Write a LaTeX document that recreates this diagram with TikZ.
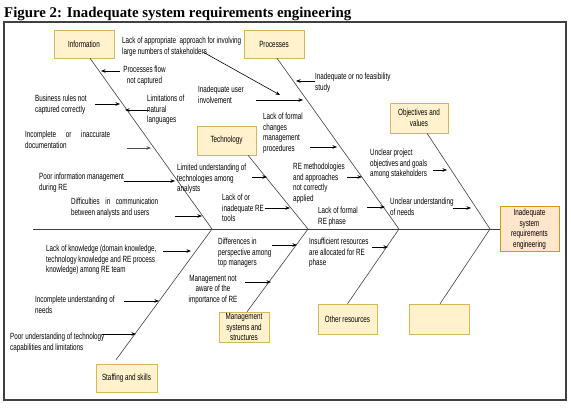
\documentclass[tikz,border=0pt]{standalone}
\usepackage{fontspec}
\usepackage{graphicx}
\usetikzlibrary{arrows.meta}
\newfontfamily\lblfont[FakeStretch=0.7]{Liberation Sans}
\newfontfamily\ttlfont{Liberation Serif}
\definecolor{catfill}{HTML}{FFF2CC}
\definecolor{catline}{HTML}{D6B656}
\definecolor{efffill}{HTML}{FFE6CC}
\definecolor{effline}{HTML}{D79B00}

\begin{document}
\begin{tikzpicture}[x=1pt,y=-1pt]
    \tikzstyle{cat}=[draw=catline, fill=catfill, inner sep=0pt, align=center
    , font=\lblfont\fontsize{9}{10.5}\selectfont]
    \tikzstyle{effect}=[draw=effline, fill=efffill, inner sep=0pt, align=center
    , font=\lblfont\fontsize{9}{10.5}\selectfont]
    \tikzstyle{lbl}=[inner sep=0pt, anchor=north west, align=left
    , font=\lblfont\fontsize{9}{10.5}\selectfont]
    \tikzstyle{bone}=[black!75, line width=0.6pt]
    \tikzstyle{cause}=[black, line width=0.6pt, -{Stealth[length=4.5pt,width=3.5pt]}]
    \useasboundingbox (0,0) rectangle (571,408);
    % Title and frame
    \node[anchor=base west, inner sep=0pt] (title) at (4,17)
      {\resizebox{347pt}{!}{\ttlfont\fontsize{14}{16}\selectfont\bfseries Figure 2: Inadequate system requirements engineering}};
    \draw[black!75, line width=1.2pt] (4,22) rectangle (566,400);
    % Spine and head
    \coordinate (tail) at (33,229);
    \coordinate (v1) at (212,229);
    \coordinate (v2) at (308,229);
    \coordinate (v3) at (399,229);
    \coordinate (v4) at (490,229);
    \node[effect, minimum width=59pt, minimum height=45pt] (eff) at (529.5,229)
      {Inadequate\\system\\requirements\\engineering};
    \draw[bone] (tail) -- (eff.west);
    % Category boxes
    \node[cat, minimum width=60pt, minimum height=28pt] (info) at (84,44) {Information};
    \node[cat, minimum width=60pt, minimum height=28pt] (proc) at (274,44) {Processes};
    \node[cat, minimum width=59pt, minimum height=29pt] (tech) at (226.5,140.5) {Technology};
    \node[cat, minimum width=58pt, minimum height=30pt] (obj) at (419,118) {Objectives and\\values};
    \node[cat, minimum width=50pt, minimum height=30pt] (mgmt) at (244,327) {Management\\systems and\\structures};
    \node[cat, minimum width=59pt, minimum height=30pt] (other) at (347.5,319) {Other resources};
    \node[cat, minimum width=60pt, minimum height=30pt] (blank) at (439,319) {};
    \node[cat, minimum width=61pt, minimum height=28pt] (staff) at (126.5,378) {Staffing and skills};
    % Bones
    \draw[bone] ([xshift=6pt]info.south) -- (v1);
    \draw[bone] ([xshift=3pt]proc.south) -- (v3);
    \draw[bone] ([xshift=21.5pt]tech.south) -- (v2);
    \draw[bone] ([xshift=8pt]obj.south) -- (v4);
    \draw[bone] ([xshift=-10.5pt,yshift=4pt]staff.north) -- (v1);
    \draw[bone] ([xshift=3pt]mgmt.north) -- (v2);
    \draw[bone] (other.north) -- (v3);
    \draw[bone] ([xshift=1pt]blank.north) -- (v4);
    % Causes: information
    \node[lbl, anchor=north, align=center] (flow) at (144.5,66) {Processes flow\\not captured};
    \node[lbl] (rules) at (35,95) {Business rules not\\captured correctly};
    \node[lbl] (limits) at (147,95) {Limitations of\\natural\\languages};
    \node[lbl] (docs) at (25,131) {\makebox[85pt][s]{Incomplete or inaccurate}\\documentation};
    \node[lbl] (poor) at (39,173) {Poor information management\\during RE};
    \node[lbl] (comm) at (71,198) {\makebox[87pt][s]{Difficulties in communication}\\between analysts and users};
    \coordinate (flow-t) at (120,71);   \coordinate (flow-h) at (101,71);
    \coordinate (rules-t) at (95,104);  \coordinate (rules-h) at (120,104);
    \coordinate (limits-t) at (149,110); \coordinate (limits-h) at (125,110);
    \coordinate (docs-t) at (127,148);  \coordinate (docs-h) at (151,148);
    \coordinate (poor-t) at (124,181);  \coordinate (poor-h) at (175,181);
    \coordinate (comm-t) at (175,216);  \coordinate (comm-h) at (202,216);
    \draw[cause] (flow-t) -- (flow-h);
    \draw[cause] (rules-t) -- (rules-h);
    \draw[cause] (limits-t) -- (limits-h);
    \draw[cause, line width=1pt, black!70] (docs-t) -- (docs-h);
    \draw[cause] (poor-t) -- (poor-h);
    \draw[cause] (comm-t) -- (comm-h);
    % Causes: technology
    \node[lbl] (limited) at (177,164) {Limited understanding of\\technologies among\\analysts};
    \node[lbl] (tools) at (222,194) {Lack of or\\inadequate RE\\tools};
    \coordinate (limited-t) at (252,177); \coordinate (limited-h) at (267,177);
    \coordinate (tools-t) at (265,208);   \coordinate (tools-h) at (290,208);
    \draw[cause] (limited-t) -- (limited-h);
    \draw[cause] (tools-t) -- (tools-h);
    % Causes: processes
    \node[lbl] (approach) at (122,37) {Lack of appropriate\ \ approach for involving\\large numbers of stakeholders};
    \node[lbl] (user) at (198,86) {Inadequate user\\involvement};
    \node[lbl] (feas) at (315,73) {Inadequate or no feasibility\\study};
    \node[lbl] (changes) at (263,113) {Lack of formal\\changes\\management\\procedures};
    \node[lbl] (method) at (293,163) {RE methodologies\\and approaches\\not correctly\\applied};
    \node[lbl] (formal) at (318,207) {Lack of formal\\RE phase};
    \coordinate (approach-t) at (203,52); \coordinate (approach-h) at (280,95);
    \coordinate (user-t) at (256,100);    \coordinate (user-h) at (303,100);
    \coordinate (feas-t) at (315,81);     \coordinate (feas-h) at (296,81);
    \coordinate (changes-t) at (310,147); \coordinate (changes-h) at (337,147);
    \coordinate (method-t) at (347,177);  \coordinate (method-h) at (362,177);
    \coordinate (formal-t) at (367,207);  \coordinate (formal-h) at (385,207);
    \draw[cause] (approach-t) -- (approach-h);
    \draw[cause] (user-t) -- (user-h);
    \draw[cause] (feas-t) -- (feas-h);
    \draw[cause] (changes-t) -- (changes-h);
    \draw[cause] (method-t) -- (method-h);
    \draw[cause] (formal-t) -- (formal-h);
    % Causes: objectives
    \node[lbl] (goals) at (370,149) {Unclear project\\objectives and goals\\among stakeholders};
    \node[lbl] (needs) at (390,198) {Unclear understanding\\of needs};
    \coordinate (goals-t) at (433,170); \coordinate (goals-h) at (447,170);
    \coordinate (needs-t) at (453,208); \coordinate (needs-h) at (471,208);
    \draw[cause] (goals-t) -- (goals-h);
    \draw[cause] (needs-t) -- (needs-h);
    % Causes: staffing
    \node[lbl] (know) at (46,245) {Lack of knowledge (domain knowledge,\\technology knowledge and RE process\\knowledge) among RE team};
    \node[lbl] (incomp) at (35,296) {Incomplete understanding of\\needs};
    \node[lbl] (techcap) at (10,333) {Poor understanding of technology\\capabilities and limitations};
    \coordinate (know-t) at (163,251);    \coordinate (know-h) at (191,251);
    \coordinate (incomp-t) at (124,301);  \coordinate (incomp-h) at (159,301);
    \coordinate (techcap-t) at (102,334); \coordinate (techcap-h) at (136,334);
    \draw[cause] (know-t) -- (know-h);
    \draw[cause] (incomp-t) -- (incomp-h);
    \draw[cause] (techcap-t) -- (techcap-h);
    % Causes: management and resources
    \node[lbl] (diff) at (218,238) {Differences in\\perspective among\\top managers};
    \node[lbl, anchor=north, align=center] (aware) at (213,275) {Management not\\aware of the\\importance of RE};
    \node[lbl] (insuf) at (309,238) {Insufficient resources\\are allocated for RE\\phase};
    \coordinate (diff-t) at (272,245);  \coordinate (diff-h) at (297,245);
    \coordinate (aware-t) at (245,282); \coordinate (aware-h) at (271,282);
    \coordinate (insuf-t) at (372,247); \coordinate (insuf-h) at (388,247);
    \draw[cause] (diff-t) -- (diff-h);
    \draw[cause] (aware-t) -- (aware-h);
    \draw[cause] (insuf-t) -- (insuf-h);
\end{tikzpicture}
\end{document}
